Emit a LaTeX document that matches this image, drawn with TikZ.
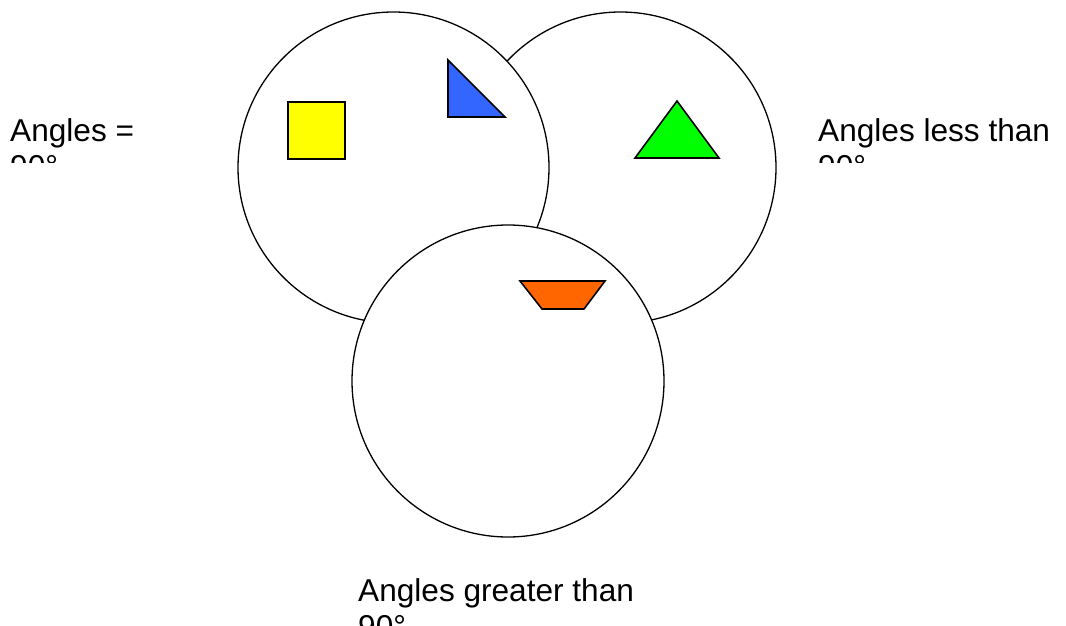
\documentclass[tikz,border=0pt]{standalone}
\usepackage{fontspec}
\setmainfont{Liberation Sans}
\definecolor{myyellow}{HTML}{FFFF00}
\definecolor{myblue}{HTML}{3366FF}
\definecolor{mygreen}{HTML}{00FF00}
\definecolor{myorange}{HTML}{FF6600}
\tikzset{
  setcircle/.style={draw=black, fill=white, line width=1.3pt},
  shapeface/.style={draw=black, line width=1.6pt, line join=miter},
  labeltext/.style={anchor=base west, inner sep=0pt, font=\fontsize{31.6}{36.3}\selectfont}
}
\begin{document}
\begin{tikzpicture}[x=1pt,y=-1pt]
\useasboundingbox (0,0) rectangle (1066,626);
% circles (right behind, then left, then bottom on top)
\draw[setcircle] (620.5,167.5) circle (155.5);
\node (right) at (620.5,167.5) {};
\draw[setcircle] (393.5,167.5) circle (155.5);
\node (left) at (393.5,167.5) {};
\draw[setcircle] (508,381) circle (156);
\node (bottom) at (508,381) {};
% shapes
\draw[shapeface, fill=myyellow] (288,102) rectangle (345,159);
\draw[shapeface, fill=myblue] (448,60) -- (448,117) -- (505,117) -- cycle;
\draw[shapeface, fill=mygreen] (677,101) -- (635,158) -- (719,158) -- cycle;
\draw[shapeface, fill=myorange] (520,281) -- (605,281) -- (584,309) -- (542,309) -- cycle;
% labels (second line clipped)
\begin{scope}
\clip (0,0) rectangle (230,162);
\node[labeltext] (l1) at (10,141) {Angles =};
\node[labeltext] (l2) at (10,177.5) {90°};
\end{scope}
\begin{scope}
\clip (790,0) rectangle (1066,162);
\node[labeltext] (r1) at (818,141) {Angles less than};
\node[labeltext] (r2) at (818,177.5) {90°};
\end{scope}
\begin{scope}
\clip (340,540) rectangle (700,626);
\node[labeltext] (b1) at (358,601) {Angles greater than};
\node[labeltext] (b2) at (358,637.5) {90°};
\end{scope}
\end{tikzpicture}
\end{document}
